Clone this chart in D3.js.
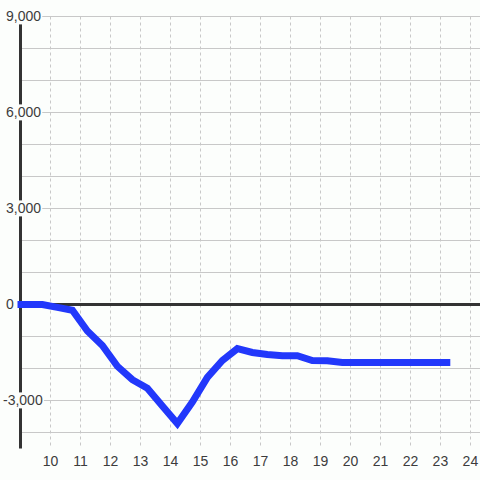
<!DOCTYPE html>
<html>
<head>
<meta charset="utf-8">
<script src="https://cdn.jsdelivr.net/npm/d3@7"></script>
<style>
  html, body { margin: 0; padding: 0; background: #fcfefc; }
  svg { display: block; font-family: 'Liberation Sans', Arial, sans-serif; }
</style>
</head>
<body>
<div id="chart"></div>
<script>
const WIDTH = 480;
const HEIGHT = 480;

// series
const xValues = [8.73, 9.23, 9.73, 10.23, 10.73, 11.23, 11.73, 12.23, 12.73, 13.23, 13.73,
  14.23, 14.73, 15.23, 15.73, 16.23, 16.73, 17.23, 17.73, 18.23, 18.73, 19.23,
  19.73, 20.23, 20.73, 21.23, 21.73, 22.23, 22.73, 23.33];
const yValues = [0, 0, 0, -90, -180, -830, -1280, -1930, -2350, -2620, -3170,
  -3720, -3050, -2280, -1750, -1380, -1500, -1560, -1600, -1600, -1750, -1760,
  -1810, -1810, -1810, -1810, -1810, -1810, -1810, -1810];

const xTicks = [10, 11, 12, 13, 14, 15, 16, 17, 18, 19, 20, 21, 22, 23, 24];
const yLabelTicks = [9000, 6000, 3000, 0, -3000];
const yGridTicks = [9000, 8000, 7000, 6000, 5000, 4000, 3000, 2000, 1000, -1000, -2000, -3000, -4000];

const data = xValues.map((x, i) => ({ x: x, y: yValues[i] }));

const x = d3.scaleLinear().domain([9, 24.32]).range([20.5, 480]);
const y = d3.scaleLinear().domain([-4500, 9000]).range([448.5, 16.5]);

const svg = d3.select('#chart')
  .append('svg')
  .attr('width', WIDTH)
  .attr('height', HEIGHT);

svg.append('rect')
  .attr('width', WIDTH)
  .attr('height', HEIGHT)
  .attr('fill', '#fcfefc');

// clip: nothing left of the y axis
svg.append('defs')
  .append('clipPath')
  .attr('id', 'clip')
  .append('rect')
  .attr('x', x(9) - 3)
  .attr('y', 0)
  .attr('width', WIDTH)
  .attr('height', HEIGHT);

// vertical dashed grid
svg.append('g')
  .selectAll('line')
  .data(xTicks)
  .join('line')
  .attr('x1', (d) => Math.round(x(d)) + 0.5)
  .attr('x2', (d) => Math.round(x(d)) + 0.5)
  .attr('y1', y(9000))
  .attr('y2', y(-4500))
  .attr('stroke', '#c8c8c8')
  .attr('stroke-width', 1)
  .attr('stroke-dasharray', '3,3');

// horizontal grid
svg.append('g')
  .selectAll('line')
  .data(yGridTicks)
  .join('line')
  .attr('x1', x(9))
  .attr('x2', WIDTH)
  .attr('y1', (d) => y(d))
  .attr('y2', (d) => y(d))
  .attr('stroke', '#c8c8c8')
  .attr('stroke-width', 1);

// y axis line
svg.append('line')
  .attr('x1', x(9))
  .attr('x2', x(9))
  .attr('y1', y(9000))
  .attr('y2', y(-4500))
  .attr('stroke', '#333')
  .attr('stroke-width', 3);

// y labels with background boxes (they cover axis and grid)
const fmt = d3.format(',');
const yLab = svg.append('g')
  .selectAll('g')
  .data(yLabelTicks)
  .join('g')
  .attr('transform', (d) => `translate(${d < 0 ? 3 : 6}, ${y(d)})`);

yLab.append('text')
  .attr('dy', '0.35em')
  .attr('font-size', 14)
  .attr('fill', '#3c3c3c')
  .text((d) => fmt(d).replace('−', '-'))
  .each(function () {
    const b = this.getBBox();
    d3.select(this.parentNode)
      .insert('rect', 'text')
      .attr('x', b.x - 1)
      .attr('y', b.y)
      .attr('width', b.width + 2)
      .attr('height', b.height)
      .attr('fill', '#fcfefc');
  });

// zero line
svg.append('line')
  .attr('x1', x(9))
  .attr('x2', WIDTH)
  .attr('y1', y(0))
  .attr('y2', y(0))
  .attr('stroke', '#333')
  .attr('stroke-width', 3);

// the series
svg.append('path')
  .datum(data)
  .attr('clip-path', 'url(#clip)')
  .attr('fill', 'none')
  .attr('stroke', '#2238fb')
  .attr('stroke-width', 7)
  .attr('stroke-linejoin', 'miter')
  .attr('d', d3.line().x((d) => x(d.x)).y((d) => y(d.y)));

// x labels
svg.append('g')
  .selectAll('text')
  .data(xTicks)
  .join('text')
  .attr('x', (d) => x(d))
  .attr('y', 466)
  .attr('text-anchor', 'middle')
  .attr('font-size', 14)
  .attr('fill', '#3c3c3c')
  .text((d) => d);
</script>
</body>
</html>
